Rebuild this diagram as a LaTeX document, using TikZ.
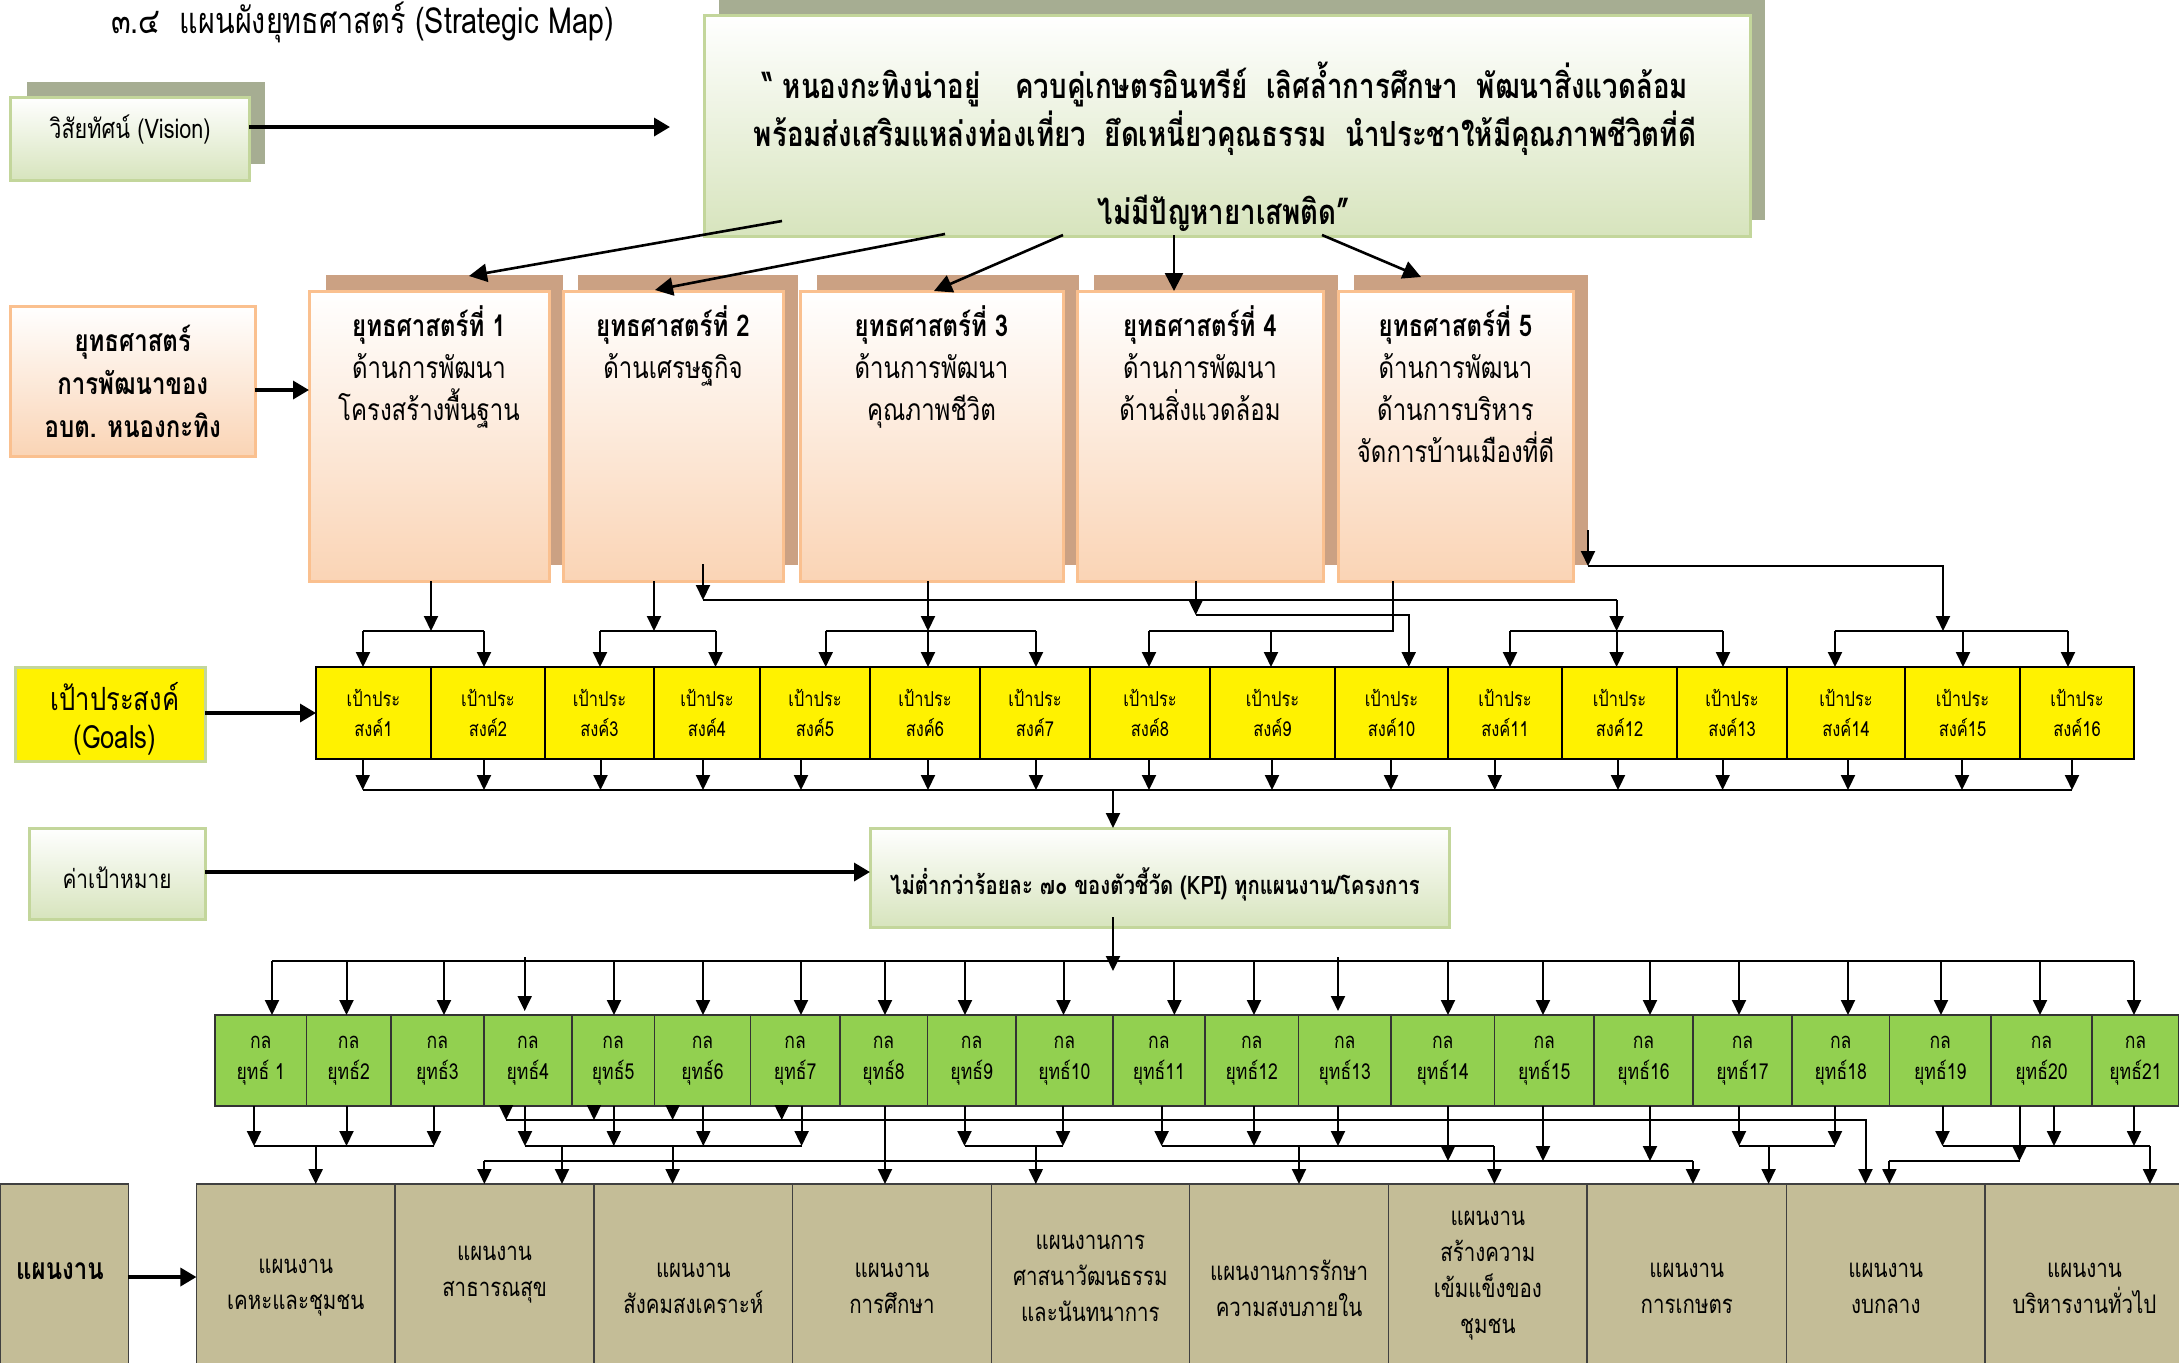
\documentclass[tikz,border=0pt]{standalone}
\usepackage{fontspec}
\setmainfont[Script=Thai,FakeStretch=0.8]{Loma}
\usetikzlibrary{arrows.meta}
\definecolor{shG}{RGB}{166,173,146}
\definecolor{grB}{RGB}{215,228,189}
\definecolor{grL}{RGB}{195,214,155}
\definecolor{shT}{RGB}{203,161,131}
\definecolor{pcB}{RGB}{250,212,181}
\definecolor{pcL}{RGB}{250,192,143}
\definecolor{tacG}{RGB}{146,208,80}
\definecolor{plT}{RGB}{196,189,151}
\newcommand\fs[2]{\fontsize{#1}{#2}\selectfont}
\newcommand\rbox[7]{\node[#6,anchor=north west,minimum width={(#4-(#2))*0.5pt},minimum height={(#5-(#3))*0.5pt},inner sep=0pt,outer sep=0pt,align=center] (#1) at (#2,#3) {#7};}
\begin{document}
\begin{tikzpicture}[x=0.5pt,y=-0.5pt,
 arr/.style={-{Triangle[length=7.5pt,width=7pt]},line width=1pt},
 ln/.style={line width=1pt},
 bigarr/.style={-{Triangle[length=8pt,width=9pt]},line width=1.7pt},
 varr/.style={-{Triangle[length=9pt,width=9pt]},line width=1.3pt},
 vbox/.style={draw=grL,line width=1.5pt,top color=white,bottom color=grB},
 sbox/.style={draw=pcL,line width=1.5pt,top color=white,bottom color=pcB},
 gcell/.style={draw=black,line width=1pt,fill=yellow},
 tcell/.style={draw=black!80,line width=0.8pt,fill=tacG},
 pcell/.style={draw=black!75,line width=0.7pt,fill=plT},
 lbl/.style={inner sep=0pt,align=center}]
\useasboundingbox (0,0) rectangle (2179,1362);
% title
\node[anchor=west,font=\fs{18}{21}] (title) at (104,22) {๓.๔\ \ แผนผังยุทธศาสตร์ (Strategic Map)};
% vision
\fill[shG] (27,82) rectangle (265,164);
\rbox{vis}{10.5}{97}{249}{180}{vbox}{}
\node[lbl,font=\fs{13.5}{16}] (vist) at (130,129) {วิสัยทัศน์ (Vision)};
\fill[shG] (719,0) rectangle (1765,220);
\rbox{vbig}{704}{15}{1750}{236}{vbox}{}
\node[anchor=base,font=\bfseries\fs{17.3}{20}] (vl1) at (1225,98) {“ หนองกะทิงน่าอยู่\quad ควบคู่เกษตรอินทรีย์\ \ เลิศล้ำการศึกษา\ \ พัฒนาสิ่งแวดล้อม};
\node[anchor=base,font=\bfseries\fs{17.3}{20}] (vl2) at (1225,146) {พร้อมส่งเสริมแหล่งท่องเที่ยว\ \ ยึดเหนี่ยวคุณธรรม\ \ นำประชาให้มีคุณภาพชีวิตที่ดี};
\node[anchor=base,font=\bfseries\fs{17.3}{20}] (vl3) at (1224,224) {ไม่มีปัญหายาเสพติด”};
\draw[bigarr] (vis.east |- 0,127) -- (670,127);
% strategies
\fill[shT] (326,275) rectangle (563,565);
\fill[shT] (578,275) rectangle (798,565);
\fill[shT] (817,275) rectangle (1079,565);
\fill[shT] (1094,275) rectangle (1338,565);
\fill[shT] (1354,275) rectangle (1588,565);
\rbox{s1}{309}{291}{549}{581}{sbox}{}
\rbox{s2}{563}{291}{783}{581}{sbox}{}
\rbox{s3}{800}{291}{1063}{581}{sbox}{}
\rbox{s4}{1077}{291}{1323}{581}{sbox}{}
\rbox{s5}{1338}{291}{1573}{581}{sbox}{}
\node[anchor=north,align=center,font=\fs{15}{21}] (s1t) at (s1.north |- 0,299) {\textbf{ยุทธศาสตร์ที่ 1}\\ด้านการพัฒนา\\โครงสร้างพื้นฐาน};
\node[anchor=north,align=center,font=\fs{15}{21}] (s2t) at (s2.north |- 0,299) {\textbf{ยุทธศาสตร์ที่ 2}\\ด้านเศรษฐกิจ};
\node[anchor=north,align=center,font=\fs{15}{21}] (s3t) at (s3.north |- 0,299) {\textbf{ยุทธศาสตร์ที่ 3}\\ด้านการพัฒนา\\คุณภาพชีวิต};
\node[anchor=north,align=center,font=\fs{15}{21}] (s4t) at (s4.north |- 0,299) {\textbf{ยุทธศาสตร์ที่ 4}\\ด้านการพัฒนา\\ด้านสิ่งแวดล้อม};
\node[anchor=north,align=center,font=\fs{15}{21}] (s5t) at (s5.north |- 0,299) {\textbf{ยุทธศาสตร์ที่ 5}\\ด้านการพัฒนา\\ด้านการบริหาร\\จัดการบ้านเมืองที่ดี};
\rbox{slab}{10.5}{306}{255}{456}{sbox,font=\bfseries\fs{15}{21.5}}{ยุทธศาสตร์\\การพัฒนาของ\\อบต. หนองกะทิง}
\draw[bigarr] (slab.east |- 0,390) -- (s1.west |- 0,390);
\draw[varr] (782,221) -- (469,276);
\draw[varr] (945,234) -- (655,290);
\draw[varr] (1063,235) -- (934,291);
\draw[varr] (1174,235) -- (1174,291);
\draw[varr] (1322,235) -- (1421,277);
% goals
\rbox{glab}{15.4}{667}{205}{761}{draw=grL,line width=1.5pt,fill=yellow}{}
\node[lbl,font=\fs{16}{19}] (glabt) at (115,719) {เป้าประสงค์\\(Goals)};
\foreach \a/\b [count=\i] in {316/431,431/545,545/654,654/760,760/870,870/980,980/1090,1090/1210,1210/1335,1335/1448,1448/1562,1562/1677,1677/1787,1787/1905,1905/2020,2020/2134}
 {\rbox{g\i}{\a}{667}{\b}{759}{gcell,font=\fs{10.3}{15}}{เป้าประ\\สงค์\i}}
\draw[bigarr] (glab.east |- 0,713) -- (g1.west |- 0,713);
% strategies -> goals
\draw[arr] (s1.south -| 431,0) -- (431,631);
\draw[ln] (363,631) -- (484,631);
\draw[arr] (363,631) -- (g1.north -| 363,0);
\draw[arr] (484,631) -- (g2.north -| 484,0);
\draw[arr] (s2.south -| 654,0) -- (654,631);
\draw[ln] (600,631) -- (715.5,631);
\draw[arr] (600,631) -- (g3.north -| 600,0);
\draw[arr] (715.5,631) -- (g4.north -| 715.5,0);
\draw[arr] (703,564) -- (703,600);
\draw[ln] (703,600) -- (1616.6,600);
\draw[arr] (1616.6,600) -- (1616.6,631);
\draw[ln] (1510,631) -- (1723,631);
\draw[arr] (1510,631) -- (g11.north -| 1510,0);
\draw[arr] (1616.6,631) -- (g12.north -| 1616.6,0);
\draw[arr] (1723,631) -- (g13.north -| 1723,0);
\draw[arr] (s3.south -| 928,0) -- (928,631);
\draw[ln] (825.7,631) -- (1036,631);
\draw[arr] (825.7,631) -- (g5.north -| 825.7,0);
\draw[arr] (928,631) -- (g6.north -| 928,0);
\draw[arr] (1036,631) -- (g7.north -| 1036,0);
\draw[arr] (s4.south -| 1195.7,0) -- (1195.7,615);
\draw[arr] (1195.7,615) -- (1408.7,615) -- (g10.north -| 1408.7,0);
\draw[ln] (s5.south -| 1393,0) -- (1393,631) -- (1149,631);
\draw[arr] (1149,631) -- (g8.north -| 1149,0);
\draw[arr] (1271,631) -- (g9.north -| 1271,0);
\draw[arr] (1588,530) -- (1588,566);
\draw[arr] (1588,566) -- (1943,566) -- (1943,631);
\draw[ln] (1835,631) -- (2068,631);
\draw[arr] (1835,631) -- (g14.north -| 1835,0);
\draw[arr] (1963,631) -- (g15.north -| 1963,0);
\draw[arr] (2068,631) -- (g16.north -| 2068,0);
% goals -> KPI
\foreach \x in {362.7,484,600.5,703,801,928,1036,1149,1272,1391,1494.7,1618,1722.6,1848,1962,2072}
 \draw[arr] (\x,759) -- (\x,790);
\draw[ln] (362.7,790) -- (2072,790);
\rbox{klab}{29.5}{828}{205}{919}{vbox}{}
\node[lbl,font=\fs{13}{15}] (klabt) at (117,878) {ค่าเป้าหมาย};
\rbox{kpi}{870}{828}{1449}{927}{vbox}{}
\node[lbl,font=\bfseries\fs{12.7}{15}] (kpit) at (1155,884) {ไม่ต่ำกว่าร้อยละ ๗๐ ของตัวชี้วัด (KPI) ทุกแผนงาน/โครงการ};
\draw[arr] (1113,790) -- (kpi.north -| 1113,0);
\draw[bigarr] (klab.east |- 0,872) -- (kpi.west |- 0,872);
% tactics
\foreach \a/\b [count=\i] in {215/306.6,306.6/390.7,390.7/484,484/571.7,571.7/654.5,654.5/750.6,750.6/839.7,839.7/927.4,927.4/1016,1016/1112.8,1112.8/1205,1205/1298.5,1298.5/1391,1391/1494.5,1494.5/1594,1594/1693,1693/1792,1792/1889.5,1889.5/1991,1991/2092,2092/2179}
 {\rbox{t\i}{\a}{1015}{\b}{1106}{tcell,font=\fs{11}{15.3}}{กล\\ยุทธ์\ifnum\i=1\ \fi\i}}
\draw[arr] (kpi.south -| 1113,0) ++(0,-10) -- (1113,971);
\draw[ln] (272,961) -- (2134,961);
\foreach \x in {272,346.5,444,614,703,801,885,965,1063.5,1174.4,1254,1448,1543,1650,1739,1848,1941,2040,2134}
 \draw[arr] (\x,961) -- (\x,1015);
\foreach \x in {524.7,1338}
 \draw[arr] (\x,957) -- (\x,1011);
% plans
\rbox{plab}{0}{1184}{128.4}{1372}{pcell}{}
\node[lbl,font=\bfseries\fs{15}{18}] (plabt) at (60,1271) {แผนงาน};
\foreach \a/\b/\y/\t [count=\i] in {196.4/395/1288/{แผนงาน\\เคหะและชุมชน},395/594/1275/{แผนงาน\\สาธารณสุข},594/792.7/1288/{แผนงาน\\สังคมสงเคราะห์},792.7/991.2/1288/{แผนงาน\\การศึกษา},991.2/1189.5/1278/{แผนงานการ\\ศาสนาวัฒนธรรม\\และนันทนาการ},1189.5/1388.7/1288/{แผนงานการรักษา\\ความสงบภายใน},1388.7/1587/1276/{แผนงาน\\สร้างความ\\เข้มแข็งของ\\ชุมชน},1587/1786.5/1288/{แผนงาน\\การเกษตร},1786.5/1985/1288/{แผนงาน\\งบกลาง},1985/2184/1288/{แผนงาน\\บริหารงานทั่วไป}}
 {\rbox{p\i}{\a}{1184}{\b}{1372}{pcell}{}
  \node[lbl,font=\fs{12.8}{18}] (pt\i) at (p\i.north |- 0,\y) {\t};}
\draw[bigarr] (plab.east |- 0,1277) -- (p1.west |- 0,1277);
% tactics -> plans
\foreach \x in {506,594,672.6,781.7}
 \draw[arr] (\x,1106) -- (\x,1120);
\draw[arr] (506,1120) -- (1865.5,1120) -- (p9.north -| 1865.5,0);
\foreach \x in {254,346.5,434,525,613.8,703.3,801.6,964.5,1063,1161.6,1254,1338,1739,1835,1942.5,2054,2134}
 \draw[arr] (\x,1106) -- (\x,1146);
\draw[ln] (254,1146) -- (434,1146);
\draw[arr] (315.7,1146) -- (p1.north -| 315.7,0);
\draw[ln] (525,1146) -- (801.6,1146);
\draw[arr] (562,1146) -- (p2.north -| 562,0);
\draw[arr] (672.6,1146) -- (p3.north -| 672.6,0);
\draw[arr] (484.4,1161) -- (p2.north -| 484.4,0);
\draw[ln] (484.4,1161) -- (1693,1161);
\draw[arr] (1693,1161) -- (p8.north -| 1693,0);
\foreach \x in {1448,1543,1650,2019.5}
 \draw[arr] (\x,1106) -- (\x,1161);
\draw[arr] (t8.south -| 885,0) -- (p4.north -| 885,0);
\draw[ln] (964.5,1146) -- (1063,1146);
\draw[arr] (1035.8,1146) -- (p5.north -| 1035.8,0);
\draw[ln] (1161.6,1146) -- (1494.4,1146);
\draw[arr] (1299,1146) -- (p6.north -| 1299,0);
\draw[arr] (1494.4,1146) -- (p7.north -| 1494.4,0);
\draw[ln] (1739,1146) -- (1835,1146);
\draw[arr] (1768.6,1146) -- (p8.north -| 1768.6,0);
\draw[ln] (1942.5,1146) -- (2150,1146);
\draw[arr] (2150,1146) -- (p10.north -| 2150,0);
\draw[ln] (2019.5,1161) -- (1889.4,1161);
\draw[arr] (1889.4,1161) -- (p9.north -| 1889.4,0);
\end{tikzpicture}
\end{document}
